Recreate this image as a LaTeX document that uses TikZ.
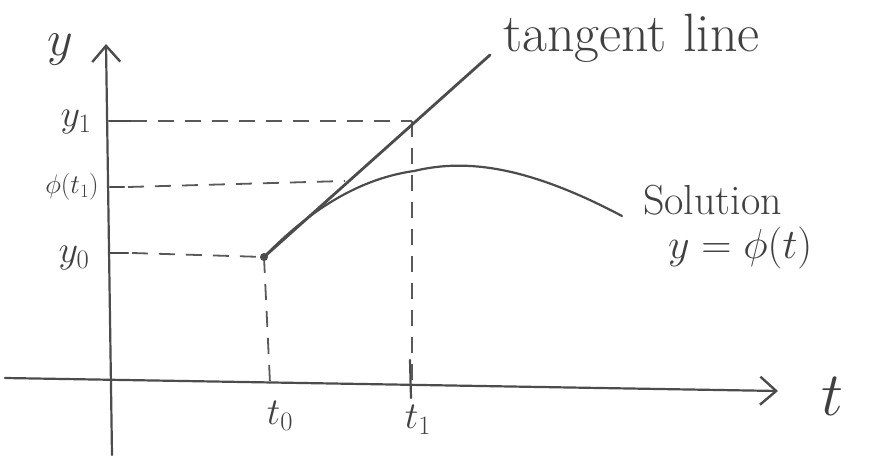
\RequirePackage{fix-cm}
\documentclass[tikz,border=0pt]{standalone}
\usetikzlibrary{arrows.meta}
\begin{document}
\begin{tikzpicture}[x=1pt,y=-1pt,
  ink/.style={draw=black!70,line width=2.2pt,line cap=round},
  guide/.style={draw=black!65,line width=1.8pt,dash pattern=on 16pt off 11pt},
  axisarrow/.style={ink,-{Straight Barb[length=16pt,width=28pt,line width=2.4pt]}},
  lbl/.style={text=black!75,inner sep=0pt},
  fs/.style={font=\fontsize{#1}{#1}\selectfont}]
\useasboundingbox[fill=white] (0,0) rectangle (873,462);
% axes
\coordinate (ybot) at (112,455);
\coordinate (ytop) at (106,44);
\coordinate (tl) at (5,378);
\coordinate (tr) at (778,391);
\draw[axisarrow] (ybot) -- (ytop);
\draw[axisarrow] (tl) -- (tr);
% key points
\coordinate (P0) at (264,257);
\coordinate (P1) at (412,121);
\coordinate (Q1) at (414,171);
\coordinate (ty1) at (109,121);
\coordinate (tphi) at (110,187);
\coordinate (ty0) at (110,253);
\coordinate (t0ax) at (270,383);
\coordinate (t1ax) at (412,385);
\coordinate (tanend) at (490,55);
\coordinate (solend) at (622,216);
\coordinate (phiend) at (345,181);
% ticks
\draw[ink] (ty1) -- +(22,0);
\draw[ink] (tphi) -- +(14,0);
\draw[ink] (ty0) -- +(18,0);
\draw[ink] (410,360) -- (411,398);
% guides
\draw[guide] ([xshift=22pt]ty1) -- (P1);
\draw[guide] ([xshift=18pt]tphi) -- (phiend);
\draw[guide] ([xshift=22pt]ty0) -- (P0);
\draw[guide] (P0) -- (t0ax);
\draw[guide] (P1) -- (t1ax);
% tangent line
\draw[ink,line width=2.8pt] (P0) -- (tanend);
\fill[black!70] (P0) circle (4pt);
% solution curve
\draw[ink] (P0) .. controls (300,220) and (350,180) .. (Q1)
  .. controls (460,160) and (520,162) .. (solend);
% labels
\node[lbl,fs=50] (ylab) at (60,50) {$y$};
\node[lbl,fs=62] (tlab) at (832,396) {$t$};
\node[lbl,fs=38] (y1lab) at (76,122) {$y_1$};
\node[lbl,fs=27] (philab) at (72,187) {$\phi(t_1)$};
\node[lbl,fs=38] (y0lab) at (74,258) {$y_0$};
\node[lbl,fs=38] (t0lab) at (280,416) {$t_0$};
\node[lbl,fs=38] (t1lab) at (418,420) {$t_1$};
\node[lbl,fs=54,anchor=west] (tanlab) at (503,38) {tangent line};
\node[lbl,fs=42,anchor=west] (sollab) at (643,200) {Solution};
\node[lbl,fs=42,anchor=west] (eqlab) at (668,248) {$y=\phi(t)$};
\end{tikzpicture}
\end{document}
